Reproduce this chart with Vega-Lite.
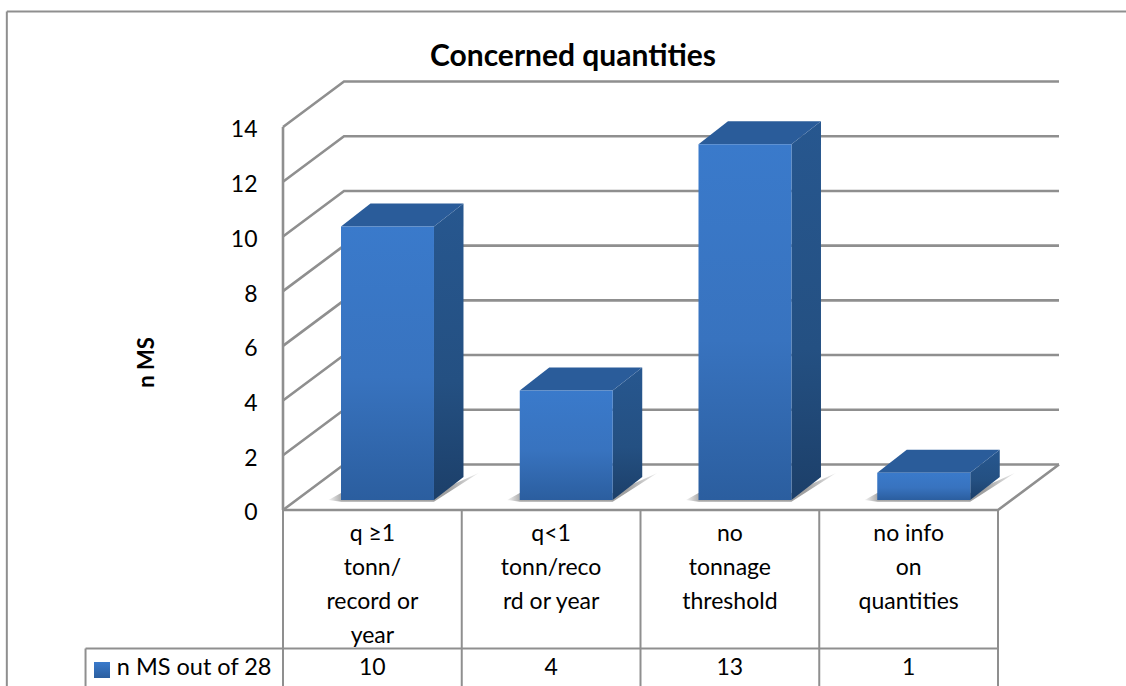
{
  "$schema": "https://vega.github.io/schema/vega-lite/v6.json",
  "width": 1126,
  "height": 686,
  "padding": 0,
  "autosize": "none",
  "background": "white",
  "title": {"text": "Concerned quantities", "font": "Lato", "fontSize": 30, "fontWeight": "bold", "color": "black", "anchor": "middle", "dx": 10, "offset": -72},
  "config": {"view": {"stroke": null}},
  "resolve": {"axis": {"y": "independent"}},
  "datasets": {
    "bars": [
      {"category": "q ≥1\ntonn/\nrecord or\nyear", "slot": 0, "value": 10},
      {"category": "q<1\ntonn/reco\nrd or year", "slot": 1, "value": 4},
      {"category": "no\ntonnage\nthreshold", "slot": 2, "value": 13},
      {"category": "no info\non\nquantities", "slot": 3, "value": 1}
    ],
    "ticks": [{"tick": 0}, {"tick": 2}, {"tick": 4}, {"tick": 6}, {"tick": 8}, {"tick": 10}, {"tick": 12}, {"tick": 14}],
    "edges": [{"edge": 0}, {"edge": 1}, {"edge": 2}, {"edge": 3}, {"edge": 4}],
    "series": [{"series": "n MS out of 28"}]
  },
  "layer": [
    {
      "description": "Outer frame, top edge",
      "data": {"name": "series"},
      "mark": {"type": "rule", "color": "#8f8f8f", "strokeWidth": 2},
      "encoding": {
        "x": {"datum": -1.545, "type": "quantitative", "scale": {"domain": [-1.5832, 4.7161], "nice": false, "zero": false}, "axis": null},
        "x2": {"datum": 4.7161},
        "y": {"datum": 18.22, "type": "quantitative", "scale": {"domain": [-6.4335, 18.642], "nice": false, "zero": false}, "axis": null}
      }
    },
    {
      "description": "Outer frame, left edge",
      "data": {"name": "series"},
      "mark": {"type": "rule", "color": "#8f8f8f", "strokeWidth": 2},
      "encoding": {
        "x": {"datum": -1.545, "type": "quantitative", "scale": {"domain": [-1.5832, 4.7161], "nice": false, "zero": false}, "axis": null},
        "y": {"datum": 18.22, "type": "quantitative", "scale": {"domain": [-6.4335, 18.642], "nice": false, "zero": false}, "axis": null},
        "y2": {"datum": -6.4335}
      }
    },
    {
      "description": "Gridlines running along the side wall and the back wall",
      "data": {"name": "ticks"},
      "transform": [
        {"calculate": "[0, 1, 2]", "as": "pt"},
        {"flatten": ["pt"]},
        {"calculate": "datum.pt === 0 ? 0 : datum.pt === 1 ? 0.3413 : 4.3413", "as": "px"},
        {"calculate": "datum.tick + (datum.pt === 0 ? 0 : 1.663)", "as": "py"}
      ],
      "mark": {"type": "line", "color": "#8f8f8f", "strokeWidth": 2.6, "strokeJoin": "miter", "interpolate": "linear"},
      "encoding": {
        "x": {"field": "px", "type": "quantitative", "scale": {"domain": [-1.5832, 4.7161], "nice": false, "zero": false}, "axis": null},
        "y": {"field": "py", "type": "quantitative", "scale": {"domain": [-6.4335, 18.642], "nice": false, "zero": false}, "axis": null},
        "detail": {"field": "tick"},
        "order": {"field": "pt"}
      }
    },
    {
      "description": "Front and right edges of the floor",
      "data": {"name": "series"},
      "transform": [
        {"calculate": "[0, 1, 2]", "as": "pt"},
        {"flatten": ["pt"]},
        {"calculate": "datum.pt === 0 ? 0 : datum.pt === 1 ? 4 : 4.3413", "as": "px"},
        {"calculate": "datum.pt === 2 ? 1.663 : 0", "as": "py"}
      ],
      "mark": {"type": "line", "color": "#8f8f8f", "strokeWidth": 2.6, "strokeJoin": "miter"},
      "encoding": {
        "x": {"field": "px", "type": "quantitative", "scale": {"domain": [-1.5832, 4.7161], "nice": false, "zero": false}, "axis": null},
        "y": {"field": "py", "type": "quantitative", "scale": {"domain": [-6.4335, 18.642], "nice": false, "zero": false}, "axis": null},
        "order": {"field": "pt"}
      }
    },
    {
      "description": "Vertical value axis on the front of the side wall",
      "data": {"name": "series"},
      "mark": {"type": "rule", "color": "#8f8f8f", "strokeWidth": 2.6},
      "encoding": {
        "x": {"datum": 0, "type": "quantitative", "scale": {"domain": [-1.5832, 4.7161], "nice": false, "zero": false}, "axis": null},
        "y": {"datum": 0, "type": "quantitative", "scale": {"domain": [-6.4335, 18.642], "nice": false, "zero": false},
          "axis": {"orient": "left", "offset": -283, "values": [0, 2, 4, 6, 8, 10, 12, 14], "domain": false, "ticks": false, "grid": false, "labelPadding": 26, "labelOffset": 3, "labelFont": "Lato", "labelFontSize": 23, "labelColor": "black", "format": "d",
            "title": "n MS", "titleFont": "Lato", "titleFontSize": 22, "titleFontWeight": "bold", "titleColor": "black", "titleAngle": 270, "titleX": -137, "titleY": 362, "titleAlign": "center", "titleBaseline": "middle"}},
        "y2": {"datum": 14}
      }
    },
    {
      "description": "Soft floor shadow behind each bar",
      "data": {"name": "bars"},
      "transform": [
        {"calculate": "[0, 1, 2, 3, 4, 5]", "as": "corner"},
        {"flatten": ["corner"]},
        {"calculate": "datum.slot + 0.3245 + [-0.07, 0, 0.52, 0.77, 0.52, 0][datum.corner]", "as": "px"},
        {"calculate": "[0.3655, 0.62, 0.62, 1.35, 0.3, 0.3][datum.corner]", "as": "py"}
      ],
      "mark": {"type": "line", "interpolate": "linear-closed", "strokeWidth": 0, "fill": {"gradient": "linear", "x1": 0, "x2": 1, "y1": 0, "y2": 0, "stops": [{"offset": 0, "color": "#f4f4f4"}, {"offset": 0.09, "color": "#a8a8a8"}, {"offset": 0.8, "color": "#a0a0a0"}, {"offset": 1, "color": "#eeeeee"}]}},
      "encoding": {
        "x": {"field": "px", "type": "quantitative", "scale": {"domain": [-1.5832, 4.7161], "nice": false, "zero": false}, "axis": null},
        "y": {"field": "py", "type": "quantitative", "scale": {"domain": [-6.4335, 18.642], "nice": false, "zero": false}, "axis": null},
        "detail": {"field": "slot"},
        "order": {"field": "corner"}
      }
    },
    {
      "description": "Right-hand side face of each bar",
      "data": {"name": "bars"},
      "transform": [
        {"calculate": "[0, 1, 2, 3]", "as": "corner"},
        {"flatten": ["corner"]},
        {"calculate": "datum.slot + 0.8447 + [0, 0.165, 0.165, 0][datum.corner]", "as": "px"},
        {"calculate": "[datum.value + 0.3655, datum.value + 1.2055, 1.2055, 0.3655][datum.corner]", "as": "py"}
      ],
      "mark": {"type": "line", "interpolate": "linear-closed", "strokeWidth": 0, "fill": {"gradient": "linear", "x1": 0, "x2": 0, "y1": 0, "y2": 1, "stops": [{"offset": 0, "color": "#27578f"}, {"offset": 0.6, "color": "#245082"}, {"offset": 1, "color": "#1c3f69"}]}},
      "encoding": {
        "x": {"field": "px", "type": "quantitative", "scale": {"domain": [-1.5832, 4.7161], "nice": false, "zero": false}, "axis": null},
        "y": {"field": "py", "type": "quantitative", "scale": {"domain": [-6.4335, 18.642], "nice": false, "zero": false}, "axis": null},
        "detail": {"field": "slot"},
        "order": {"field": "corner"}
      }
    },
    {
      "description": "Top face of each bar",
      "data": {"name": "bars"},
      "transform": [
        {"calculate": "[0, 1, 2, 3]", "as": "corner"},
        {"flatten": ["corner"]},
        {"calculate": "datum.slot + 0.3245 + [0, 0.165, 0.685, 0.52][datum.corner]", "as": "px"},
        {"calculate": "datum.value + 0.3655 + [0, 0.84, 0.84, 0][datum.corner]", "as": "py"}
      ],
      "mark": {"type": "line", "interpolate": "linear-closed", "strokeWidth": 0, "fill": "#2a5c9a"},
      "encoding": {
        "x": {"field": "px", "type": "quantitative", "scale": {"domain": [-1.5832, 4.7161], "nice": false, "zero": false}, "axis": null},
        "y": {"field": "py", "type": "quantitative", "scale": {"domain": [-6.4335, 18.642], "nice": false, "zero": false}, "axis": null},
        "detail": {"field": "slot"},
        "order": {"field": "corner"}
      }
    },
    {
      "description": "Front face of each bar, drawn from its value",
      "data": {"name": "bars"},
      "transform": [
        {"calculate": "datum.slot + 0.3245", "as": "px"},
        {"calculate": "datum.slot + 0.8447", "as": "px2"},
        {"calculate": "datum.value + 0.3655", "as": "py"},
        {"calculate": "0.3655", "as": "py2"}
      ],
      "mark": {"type": "rect", "color": {"gradient": "linear", "x1": 0, "x2": 0, "y1": 0, "y2": 1, "stops": [{"offset": 0, "color": "#3a7acb"}, {"offset": 0.55, "color": "#3873bf"}, {"offset": 1, "color": "#2b5e9f"}]}},
      "encoding": {
        "x": {"field": "px", "type": "quantitative", "scale": {"domain": [-1.5832, 4.7161], "nice": false, "zero": false}, "axis": null},
        "x2": {"field": "px2"},
        "y": {"field": "py", "type": "quantitative", "scale": {"domain": [-6.4335, 18.642], "nice": false, "zero": false}, "axis": null},
        "y2": {"field": "py2"}
      }
    },
    {
      "description": "Column separators of the data table",
      "data": {"name": "edges"},
      "mark": {"type": "rule", "color": "#8f8f8f", "strokeWidth": 2},
      "encoding": {
        "x": {"field": "edge", "type": "quantitative", "scale": {"domain": [-1.5832, 4.7161], "nice": false, "zero": false}, "axis": null},
        "y": {"datum": 0, "type": "quantitative", "scale": {"domain": [-6.4335, 18.642], "nice": false, "zero": false}, "axis": null},
        "y2": {"datum": -6.4335}
      }
    },
    {
      "description": "Line above the data row of the table",
      "data": {"name": "series"},
      "mark": {"type": "rule", "color": "#8f8f8f", "strokeWidth": 2},
      "encoding": {
        "x": {"datum": -1.1047, "type": "quantitative", "scale": {"domain": [-1.5832, 4.7161], "nice": false, "zero": false}, "axis": null},
        "x2": {"datum": 4},
        "y": {"datum": -5.063, "type": "quantitative", "scale": {"domain": [-6.4335, 18.642], "nice": false, "zero": false}, "axis": null}
      }
    },
    {
      "description": "Left edge of the table's row header",
      "data": {"name": "series"},
      "mark": {"type": "rule", "color": "#8f8f8f", "strokeWidth": 2},
      "encoding": {
        "x": {"datum": -1.1047, "type": "quantitative", "scale": {"domain": [-1.5832, 4.7161], "nice": false, "zero": false}, "axis": null},
        "y": {"datum": -5.063, "type": "quantitative", "scale": {"domain": [-6.4335, 18.642], "nice": false, "zero": false}, "axis": null},
        "y2": {"datum": -6.4335}
      }
    },
    {
      "description": "Legend swatch in the row header",
      "data": {"name": "series"},
      "mark": {"type": "rect", "color": {"gradient": "linear", "x1": 0, "x2": 0, "y1": 0, "y2": 1, "stops": [{"offset": 0, "color": "#3a7acb"}, {"offset": 1, "color": "#2b5e9f"}]}},
      "encoding": {
        "x": {"datum": -1.0573, "type": "quantitative", "scale": {"domain": [-1.5832, 4.7161], "nice": false, "zero": false}, "axis": null},
        "x2": {"datum": -0.9678},
        "y": {"datum": -5.557, "type": "quantitative", "scale": {"domain": [-6.4335, 18.642], "nice": false, "zero": false}, "axis": null},
        "y2": {"datum": -6.142}
      }
    },
    {
      "description": "Series name in the row header",
      "data": {"name": "series"},
      "mark": {"type": "text", "font": "Lato", "fontSize": 23.5, "align": "left", "baseline": "middle", "color": "black"},
      "encoding": {
        "x": {"datum": -0.93, "type": "quantitative", "scale": {"domain": [-1.5832, 4.7161], "nice": false, "zero": false}, "axis": null},
        "y": {"datum": -5.77, "type": "quantitative", "scale": {"domain": [-6.4335, 18.642], "nice": false, "zero": false}, "axis": null},
        "text": {"field": "series"}
      }
    },
    {
      "description": "Category labels in the table header",
      "data": {"name": "bars"},
      "transform": [{"calculate": "datum.slot + 0.5", "as": "px"}],
      "mark": {"type": "text", "font": "Lato", "fontSize": 23, "align": "center", "baseline": "top", "lineBreak": "\n", "lineHeight": 34, "color": "black"},
      "encoding": {
        "x": {"field": "px", "type": "quantitative", "scale": {"domain": [-1.5832, 4.7161], "nice": false, "zero": false}, "axis": null},
        "y": {"datum": -0.49, "type": "quantitative", "scale": {"domain": [-6.4335, 18.642], "nice": false, "zero": false}, "axis": null},
        "text": {"field": "category"}
      }
    },
    {
      "description": "Values in the table's data row",
      "data": {"name": "bars"},
      "transform": [{"calculate": "datum.slot + 0.5", "as": "px"}],
      "mark": {"type": "text", "font": "Lato", "fontSize": 23, "align": "center", "baseline": "middle", "color": "black"},
      "encoding": {
        "x": {"field": "px", "type": "quantitative", "scale": {"domain": [-1.5832, 4.7161], "nice": false, "zero": false}, "axis": null},
        "y": {"datum": -5.77, "type": "quantitative", "scale": {"domain": [-6.4335, 18.642], "nice": false, "zero": false}, "axis": null},
        "text": {"field": "value", "type": "quantitative"}
      }
    }
  ]
}
